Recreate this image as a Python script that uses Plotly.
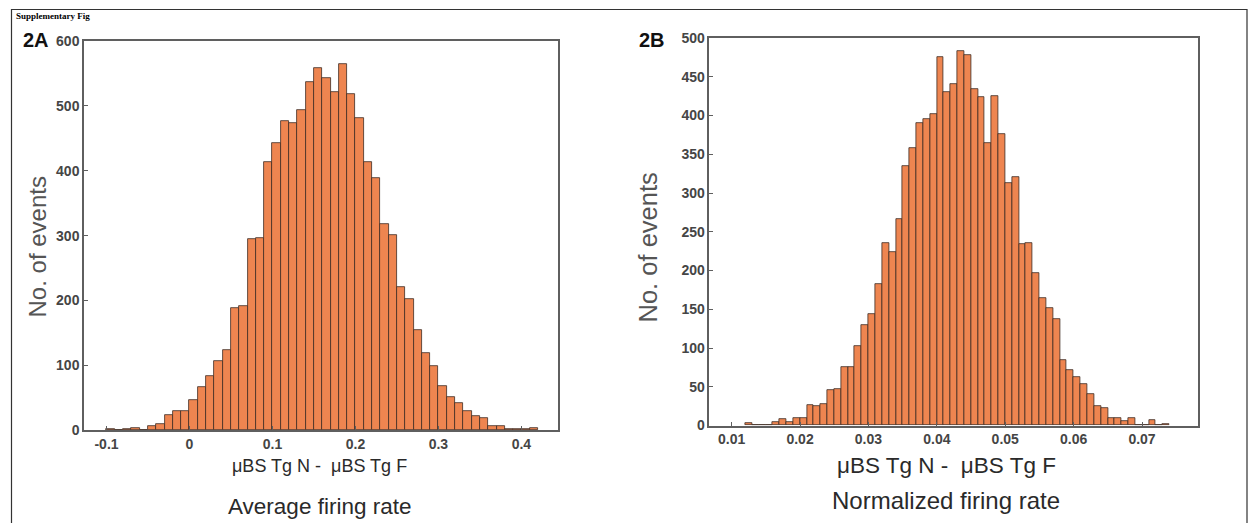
import plotly.graph_objects as go

W = 1250
HF = 532           # figure height in page pixels
OFF, SY = 8.0, 0.968   # measured capture offset / vertical scale of the photographed page

# ---------------- data ----------------
# Panel 2A: average firing rate difference, bin width 0.01, left edges from -0.10
a_bin_start = -0.10
a_bin_width = 0.01
a_counts = [1, 0, 1, 3, 0, 7, 9, 23, 29, 29,
            46, 66, 84, 107, 124, 189, 191, 294, 296, 414,
            443, 476, 473, 494, 537, 558, 543, 522, 564, 518,
            482, 414, 389, 318, 301, 221, 202, 155, 119, 99,
            68, 51, 41, 30, 21, 18, 6, 6, 1, 1,
            1, 3]
a_xticks = [-0.1, 0, 0.1, 0.2, 0.3, 0.4]
a_xticklabels = ["-0.1", "0", "0.1", "0.2", "0.3", "0.4"]
a_yticks = [0, 100, 200, 300, 400, 500, 600]

# Panel 2B: normalized firing rate difference, bin width 0.001, left edges from 0.012
b_bin_start = 0.012
b_bin_width = 0.001
b_counts = [3, 0, 1, 1, 4, 8, 4, 10, 9, 26,
            25, 28, 46, 47, 75, 75, 103, 130, 144, 182,
            235, 224, 267, 335, 358, 390, 396, 402, 475, 430,
            441, 483, 478, 434, 424, 364, 425, 376, 313, 321,
            234, 236, 197, 165, 152, 138, 84, 72, 62, 53,
            41, 25, 22, 9, 9, 6, 9, 1, 1, 7,
            0, 2]
b_xticks = [0.01, 0.02, 0.03, 0.04, 0.05, 0.06, 0.07]
b_xticklabels = ["0.01", "0.02", "0.03", "0.04", "0.05", "0.06", "0.07"]
b_yticks = [0, 50, 100, 150, 200, 250, 300, 350, 400, 450, 500]

x_title_line1 = "μBS Tg N -  μBS Tg F"
a_x_title_line2 = "Average firing rate"
b_x_title_line2 = "Normalized firing rate"
y_title = "No. of events"
heading = "Supplementary Fig"

# ---------------- style ----------------
BAR_FILL = "#EE8550"
BAR_EDGE = "#3d2b22"
AXIS_COL = "#5f5f5f"
SANS = "Liberation Sans, Arial"
TICK_FONT = dict(family=SANS, size=14, color="#454545", weight="bold")


def px_x(p):
    return p / W


def px_y(p):
    """target picture y (pixels from top) -> paper fraction"""
    v = (p - OFF) / SY
    return 1 - v / HF


a_centers = [a_bin_start + (i + 0.5) * a_bin_width for i in range(len(a_counts))]
b_centers = [b_bin_start + (i + 0.5) * b_bin_width for i in range(len(b_counts))]

fig = go.Figure()
fig.add_trace(go.Bar(x=a_centers, y=a_counts, width=a_bin_width,
                     marker=dict(color=BAR_FILL, line=dict(color=BAR_EDGE, width=0.8)),
                     xaxis="x", yaxis="y", showlegend=False, hoverinfo="x+y"))
fig.add_trace(go.Bar(x=b_centers, y=b_counts, width=b_bin_width,
                     marker=dict(color=BAR_FILL, line=dict(color=BAR_EDGE, width=0.8)),
                     xaxis="x2", yaxis="y2", showlegend=False, hoverinfo="x+y"))

common_axis = dict(showline=True, linecolor=AXIS_COL, linewidth=1.5, mirror=True,
                   ticks="inside", ticklen=4, tickcolor=AXIS_COL, tickwidth=1,
                   showgrid=False, zeroline=False, tickfont=TICK_FONT)

fig.update_layout(
    width=W, height=HF,
    margin=dict(l=0, r=0, t=0, b=0),
    paper_bgcolor="white", plot_bgcolor="white",
    bargap=0,
    xaxis=dict(domain=[px_x(84), px_x(558)], range=[-0.1271, 0.4441],
               tickvals=a_xticks, ticktext=a_xticklabels, anchor="y", **common_axis),
    yaxis=dict(domain=[px_y(429.3), px_y(41)], range=[0, 600],
               tickvals=a_yticks, anchor="x", **common_axis),
    xaxis2=dict(domain=[px_x(709.3), px_x(1198.3)], range=[0.00673, 0.07823],
                tickvals=b_xticks, ticktext=b_xticklabels, anchor="y2", **common_axis),
    yaxis2=dict(domain=[px_y(424.7), px_y(38)], range=[0, 500],
                tickvals=b_yticks, anchor="x2", **common_axis),
)

ann = []
# panel labels
ann.append(dict(text="<b>2A</b>", x=px_x(21), y=px_y(40), xanchor="left", yanchor="middle",
                font=dict(family=SANS, size=20, color="#111")))
ann.append(dict(text="<b>2B</b>", x=px_x(637), y=px_y(40), xanchor="left", yanchor="middle",
                font=dict(family=SANS, size=20, color="#111")))
# y titles
for xc, fs in ((37, 24), (648, 25.5)):
    ann.append(dict(text=y_title, x=px_x(xc), y=px_y(247), textangle=-90,
                    xanchor="center", yanchor="middle",
                    font=dict(family=SANS, size=fs, color="#555")))
# x titles
for xc, line2, fs1, fs2, yc2 in ((319, a_x_title_line2, 18, 22.5, 506),
                                  (946, b_x_title_line2, 22.5, 24, 500)):
    ann.append(dict(text=x_title_line1, x=px_x(xc), y=px_y(465), xanchor="center", yanchor="middle",
                    font=dict(family=SANS, size=fs1, color="#2a2a2a")))
    ann.append(dict(text=line2, x=px_x(xc), y=px_y(yc2), xanchor="center", yanchor="middle",
                    font=dict(family=SANS, size=fs2, color="#2a2a2a")))
# page heading (small, fully visible just under the frame's top edge)
ann.append(dict(text="<b>" + heading + "</b>", x=px_x(14), y=px_y(15.5),
                xanchor="left", yanchor="middle",
                font=dict(family="Liberation Serif, Times New Roman", size=9, color="black")))

for a in ann:
    a.update(xref="paper", yref="paper", showarrow=False)
fig.update_layout(annotations=ann)

# outer frame
fig.add_shape(type="rect", xref="paper", yref="paper",
              x0=px_x(11.5), x1=px_x(1247), y0=px_y(560), y1=px_y(9.5),
              line=dict(color="#333", width=1.2), fillcolor="rgba(0,0,0,0)", layer="below")

post = ("document.documentElement.style.margin='0';"
        "document.body.style.margin='0';document.body.style.padding='0';"
        "document.documentElement.style.overflow='hidden';document.body.style.overflow='hidden';"
        "var d=document.getElementById('{plot_id}');"
        "d.style.position='fixed';d.style.top='0px';d.style.left='0px';")

fig.write_html("out.html", config={"displayModeBar": False}, post_script=post)
